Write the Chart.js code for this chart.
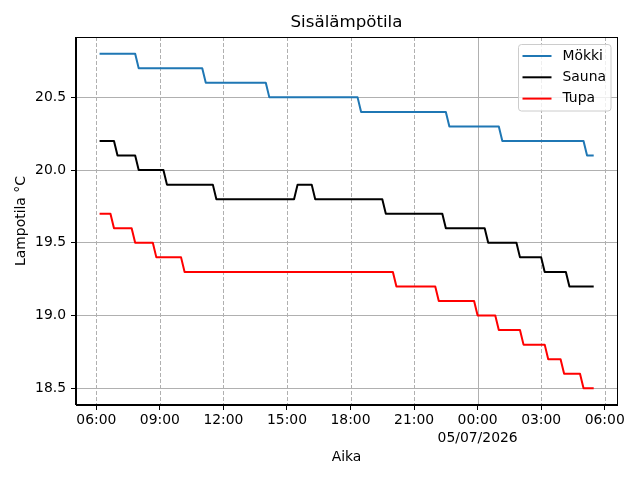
<!DOCTYPE html>
<html><head><meta charset="utf-8">
<script src="https://cdn.jsdelivr.net/npm/chart.js@4/dist/chart.umd.min.js"></script>
<style>html,body{margin:0;padding:0;background:#fff}#wrap{width:640px;height:480px}</style>
</head><body><div id="wrap"><canvas id="c" width="640" height="480"></canvas></div>
<script>
// ---- data (times HH:MM, 04/07/2026 06:12 .. 05/07/2026 05:26) ----
const chartTitle = 'Sisälämpötila';
const seriesNames = ['Mökki', 'Sauna', 'Tupa'];
const seriesColors = ['#1f77b4', '#000000', '#ff0000'];

const mokkiTimes  = ['06:12','07:50','08:00','11:00','11:10','14:00','14:10','18:20','18:30','22:30','22:40','01:00','01:10','05:00','05:10','05:26'];
const mokkiValues = [20.8, 20.8, 20.7, 20.7, 20.6, 20.6, 20.5, 20.5, 20.4, 20.4, 20.3, 20.3, 20.2, 20.2, 20.1, 20.1];

const saunaTimes  = ['06:12','06:50','07:00','07:50','08:00','09:10','09:20','11:30','11:40','15:20','15:30','16:10','16:20','19:30','19:40','22:20','22:30','00:20','00:30','01:50','02:00','03:00','03:10','04:10','04:20','05:26'];
const saunaValues = [20.2, 20.2, 20.1, 20.1, 20.0, 20.0, 19.9, 19.9, 19.8, 19.8, 19.9, 19.9, 19.8, 19.8, 19.7, 19.7, 19.6, 19.6, 19.5, 19.5, 19.4, 19.4, 19.3, 19.3, 19.2, 19.2];

const tupaTimes  = ['06:12','06:40','06:50','07:40','07:50','08:40','08:50','10:00','10:10','20:00','20:10','22:00','22:10','23:50','00:00','00:50','01:00','02:00','02:10','03:10','03:20','03:55','04:05','04:50','05:00','05:26'];
const tupaValues = [19.7, 19.7, 19.6, 19.6, 19.5, 19.5, 19.4, 19.4, 19.3, 19.3, 19.2, 19.2, 19.1, 19.1, 19.0, 19.0, 18.9, 18.9, 18.8, 18.8, 18.7, 18.7, 18.6, 18.6, 18.5, 18.5];

const xTickHours = [0, 3, 6, 9, 12, 15, 18, 21, 24];   // hours after 04/07/2026 06:00
const xTickDateLabel = '05/07/2026';                     // shown under 00:00
const yTickValues = [18.5, 19.0, 19.5, 20.0, 20.5];

// hours after 04/07 06:00
function toHours(t) {
  const [h, m] = t.split(':').map(Number);
  let v = h + m / 60 - 6;
  if (v < 0) v += 24;
  return v;
}
function pts(times, vals) { return times.map((t, i) => ({ x: toHours(t), y: vals[i] })); }
const FONT = 'DejaVu Sans';
Chart.defaults.color = '#000';
Chart.defaults.font.family = FONT;

const dataSeries = [pts(mokkiTimes, mokkiValues), pts(saunaTimes, saunaValues), pts(tupaTimes, tupaValues)];

const extras = {
  id: 'extras',
  beforeDatasetsDraw(chart) {
    const { ctx, chartArea: a, scales: { x } } = chart;
    ctx.save();
    ctx.strokeStyle = '#b0b0b0';
    ctx.lineWidth = 1;
    x.ticks.forEach(t => {
      const px = Math.round(x.getPixelForValue(t.value)) + 0.5;
      ctx.setLineDash(t.value === 18 ? [] : [4, 2]);
      ctx.beginPath(); ctx.moveTo(px, a.top); ctx.lineTo(px, a.bottom); ctx.stroke();
    });
    ctx.restore();
  },
  afterDraw(chart) {
    const { ctx, chartArea: a } = chart;
    ctx.save();
    // title centred over the axes
    ctx.fillStyle = '#000';
    ctx.font = '16.67px "' + FONT + '"';
    ctx.textAlign = 'center'; ctx.textBaseline = 'middle';
    ctx.fillText(chartTitle, (a.left + a.right) / 2, 23);
    // frame
    ctx.strokeStyle = '#000'; ctx.lineWidth = 1; ctx.setLineDash([]);
    ctx.strokeRect(Math.round(a.left) - 0.5, Math.round(a.top) + 0.5, Math.round(a.right) - Math.round(a.left) + 1, Math.round(a.bottom) - Math.round(a.top) - 1);
    // legend
    const L = a.right - 98.5, T = a.top + 7.5, W = 92.5, H = 66.5, r = 3;
    ctx.beginPath();
    ctx.moveTo(L + r, T); ctx.lineTo(L + W - r, T); ctx.arcTo(L + W, T, L + W, T + r, r);
    ctx.lineTo(L + W, T + H - r); ctx.arcTo(L + W, T + H, L + W - r, T + H, r);
    ctx.lineTo(L + r, T + H); ctx.arcTo(L, T + H, L, T + H - r, r);
    ctx.lineTo(L, T + r); ctx.arcTo(L, T, L + r, T, r); ctx.closePath();
    ctx.fillStyle = 'rgba(255,255,255,0.8)'; ctx.fill();
    ctx.strokeStyle = '#cccccc'; ctx.stroke();
    ctx.font = '13.9px "' + FONT + '"';
    ctx.textBaseline = 'middle'; ctx.textAlign = 'left';
    chart.data.datasets.forEach((ds, i) => {
      const y = T + 11.5 + i * 21.3;
      ctx.strokeStyle = ds.borderColor; ctx.lineWidth = 2;
      ctx.beginPath(); ctx.moveTo(L + 4, y); ctx.lineTo(L + 33, y); ctx.stroke();
      ctx.fillStyle = '#000';
      ctx.fillText(ds.label, L + 44, y);
    });
    ctx.restore();
  }
};

new Chart(document.getElementById('c'), {
  type: 'line',
  data: {
    datasets: seriesNames.map((n, i) => ({
      label: n, data: dataSeries[i], borderColor: seriesColors[i], backgroundColor: seriesColors[i],
      borderWidth: 2, pointRadius: 0, tension: 0, fill: false,
      borderJoinStyle: 'round', borderCapStyle: 'square'
    }))
  },
  options: {
    responsive: false, animation: false, devicePixelRatio: 1,
    layout: { padding: { left: 0, right: 23, top: 37, bottom: 0 } },
    plugins: {
      legend: { display: false }, tooltip: { enabled: false }, title: { display: false }
    },
    scales: {
      x: {
        type: 'linear', min: -0.96, max: 24.58,
        afterBuildTicks(s) { s.ticks = xTickHours.map(v => ({ value: v })); },
        afterFit(s) { s.height = 75; },
        ticks: {
          autoSkip: false, maxRotation: 0, padding: 1, color: '#000',
          font: { family: FONT, size: 13.9, lineHeight: 1.3 },
          callback(v) {
            const h = (6 + v) % 24;
            const s = String(h).padStart(2, '0') + ':00';
            return v === 18 ? [s, xTickDateLabel] : s;
          }
        },
        grid: { display: true, drawOnChartArea: false, drawTicks: true, tickLength: 5, tickColor: '#000', tickWidth: 1 },
        border: { display: true, color: '#000', width: 1 },
        title: { display: true, text: 'Aika', color: '#000', font: { family: FONT, size: 13.9 }, padding: { top: 0, bottom: 14.7 } }
      },
      y: {
        type: 'linear', min: 18.385, max: 20.915,
        afterBuildTicks(s) { s.ticks = yTickValues.map(v => ({ value: v })); },
        afterFit(s) { s.width = 76; },
        ticks: { padding: 5, color: '#000', font: { family: FONT, size: 13.9 }, callback: v => v.toFixed(1) },
        grid: { color: '#b0b0b0', lineWidth: 1, tickLength: 5, tickColor: '#000', tickWidth: 1 },
        border: { display: true, color: '#000', width: 1 },
        title: { display: true, text: 'Lampotila °C', color: '#000', font: { family: FONT, size: 13.9 }, padding: { top: 12.7, bottom: 0 } }
      }
    }
  },
  plugins: [extras]
});
</script>
</body></html>
